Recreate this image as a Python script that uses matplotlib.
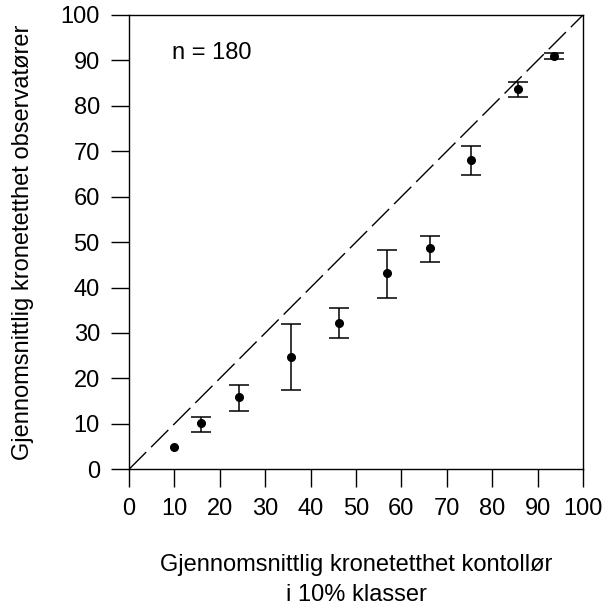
import matplotlib
matplotlib.use("Agg")
import matplotlib.pyplot as plt

plt.rcParams['font.family'] = ['Liberation Sans', 'DejaVu Sans']

# class means (controller) vs observer means with error bounds
x_vals = [10.0, 15.9, 24.3, 35.7, 46.3, 56.9, 66.2, 75.3, 85.7, 93.7]
y_vals = [5.0, 10.1, 15.9, 24.8, 32.2, 43.1, 48.6, 68.0, 83.7, 91.0]
y_upper = [5.0, 11.6, 18.6, 32.0, 35.4, 48.2, 51.4, 71.1, 85.2, 91.6]
y_lower = [5.0, 8.3, 12.8, 17.5, 28.8, 37.7, 45.7, 64.8, 81.9, 90.3]
ticks = [0, 10, 20, 30, 40, 50, 60, 70, 80, 90, 100]


def main():
    fig = plt.figure(figsize=(6.04, 6.07), dpi=100)
    ax = fig.add_axes([0.2136, 0.2269, 0.7516, 0.7484])

    # 1:1 reference line
    ax.plot([0, 100], [0, 100], color="black", lw=1.0,
            linestyle=(0, (17.5, 5)))

    # points with a spread get error bars, the rest only a dot
    xs, ys, lo, hi = [], [], [], []
    for x, y, l, h in zip(x_vals, y_vals, y_lower, y_upper):
        if h - l > 0:
            xs.append(x)
            ys.append(y)
            lo.append(y - l)
            hi.append(h - y)
        else:
            ax.plot(x, y, "o", color="black", markersize=5.5)
    ax.errorbar(xs, ys, yerr=[lo, hi], fmt="o",
                color="black", markersize=5.5, elinewidth=1.1,
                capsize=7.5, capthick=1.1)

    ax.text(9.5, 91.7, "n = 180", fontsize=17, va="center", ha="left")

    ax.set_xlim(0, 100)
    ax.set_ylim(0, 100)
    ax.set_xticks(ticks)
    ax.set_yticks(ticks)
    ax.tick_params(direction="out", length=13, width=1.0,
                   labelsize=17, pad=8)
    for s in ax.spines.values():
        s.set_linewidth(1.0)

    ax.set_xlabel("Gjennomsnittlig kronetetthet kontollør\ni 10% klasser",
                  fontsize=17, labelpad=24, linespacing=1.5)
    ax.set_ylabel("Gjennomsnittlig kronetetthet observatører",
                  fontsize=17, labelpad=19)

    fig.savefig("out.png", dpi=100)


if __name__ == '__main__':
    main()
